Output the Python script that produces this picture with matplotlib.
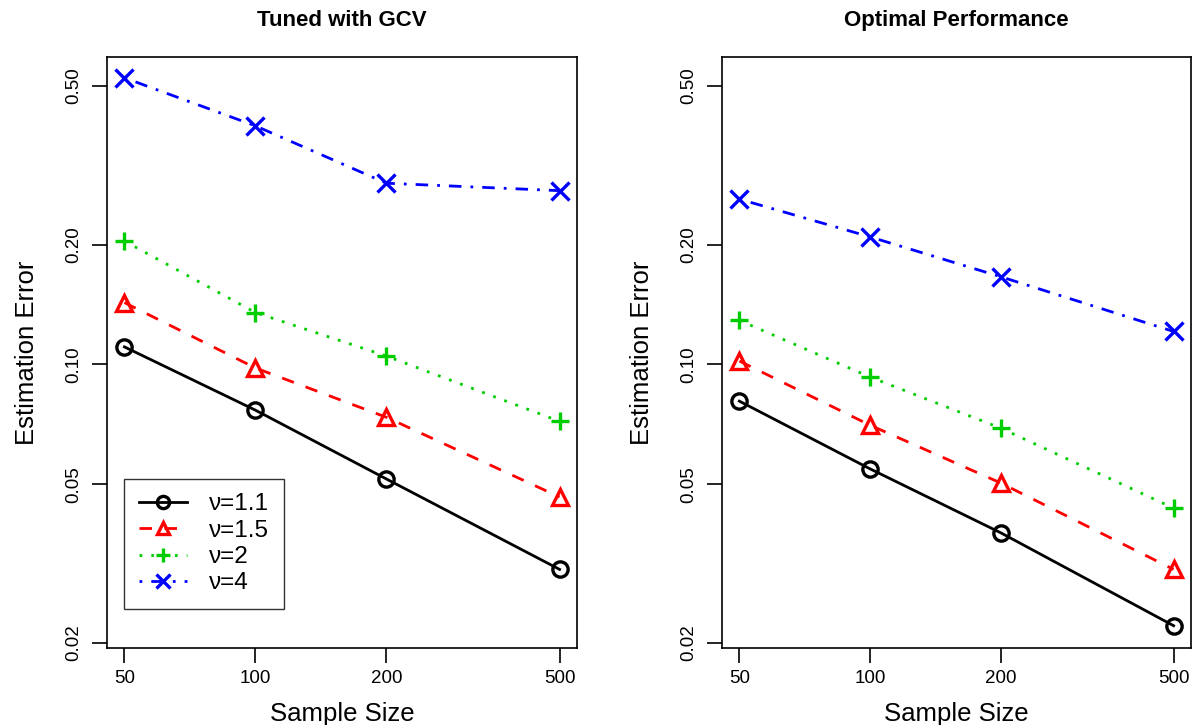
import numpy as np
import matplotlib
matplotlib.use('Agg')
from matplotlib import pyplot as plt

plt.rcParams['font.family'] = ['Liberation Sans', 'DejaVu Sans']
plt.rcParams['lines.scale_dashes'] = False

# data
sizes = [50, 100, 200, 500]
nu_labels = ['\u03bd=1.1', '\u03bd=1.5', '\u03bd=2', '\u03bd=4']

gcv_11 = [0.1107, 0.0768, 0.0516, 0.0306]
gcv_15 = [0.143, 0.098, 0.0737, 0.0465]
gcv_2 = [0.204, 0.135, 0.105, 0.072]
gcv_4 = [0.524, 0.397, 0.285, 0.273]

opt_11 = [0.0809, 0.0547, 0.0378, 0.0221]
opt_15 = [0.102, 0.0704, 0.0504, 0.0306]
opt_2 = [0.129, 0.093, 0.0692, 0.0436]
opt_4 = [0.260, 0.209, 0.166, 0.121]

y_ticks = [0.02, 0.05, 0.10, 0.20, 0.50]
y_ticklabels = ['0.02', '0.05', '0.10', '0.20', '0.50']

colors = ['black', '#FF0000', '#00CD00', '#0000FF']
markers = ['o', '^', '+', 'x']
dashes = [None, (9, 9), (2, 6.5), (2, 6.5, 9, 6.5)]

fig = plt.figure(figsize=(11.94, 7.25), dpi=100)
ax1 = fig.add_axes([107/1194, 1-648/725, 470/1194, 591/725])
ax2 = fig.add_axes([722/1194, 1-648/725, 469/1194, 591/725])

def draw(ax, series, title, legend=False):
    for i, vals in enumerate(series):
        kw = dict(color=colors[i], marker=markers[i], lw=2.0, ms=11 if i < 2 else 13,
                  mew=2.4, mfc='none', label=nu_labels[i])
        if dashes[i] is not None:
            kw['dashes'] = dashes[i]
        ax.plot(sizes, vals, **kw)
    ax.set_xscale('log')
    ax.set_yscale('log')
    ax.set_xlim(50*10**-0.04, 500*10**0.04)
    ax.set_ylim(0.01943, 0.591)
    ax.set_xticks(sizes)
    ax.set_xticklabels([str(s) for s in sizes])
    ax.set_yticks(y_ticks)
    ax.set_yticklabels(y_ticklabels, rotation=90, va='center')
    ax.minorticks_off()
    ax.tick_params(axis='both', direction='out', length=11, width=1.2, labelsize=13.5)
    ax.tick_params(axis='x', pad=5)
    ax.tick_params(axis='y', pad=7)
    for sp in ax.spines.values():
        sp.set_linewidth(1.2)
    ax.set_title(title, fontsize=16, fontweight='bold', pad=22)
    ax.set_xlabel('Sample Size', fontsize=18.5, labelpad=11)
    ax.set_ylabel('Estimation Error', fontsize=18.5, labelpad=19)
    if legend:
        leg = ax.legend(loc='lower left', bbox_to_anchor=(0.036, 0.066), fontsize=17.5,
                        frameon=True, fancybox=False, edgecolor='black',
                        handlelength=2.0, borderpad=0.6, labelspacing=0.18,
                        handletextpad=0.9, borderaxespad=0, markerscale=0.8)
        leg.get_frame().set_linewidth(1.0)

draw(ax1, [gcv_11, gcv_15, gcv_2, gcv_4], 'Tuned with GCV', legend=True)
draw(ax2, [opt_11, opt_15, opt_2, opt_4], 'Optimal Performance')

fig.savefig('out.png', dpi=100)
